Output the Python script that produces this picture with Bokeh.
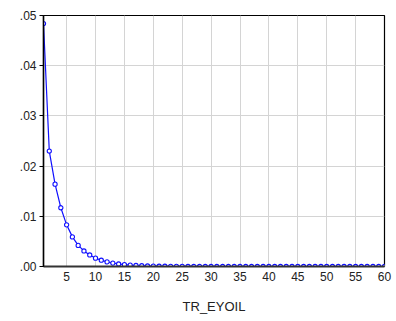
from bokeh.plotting import figure
from bokeh.models import FixedTicker, Range1d
from bokeh.embed import file_html
from bokeh.resources import INLINE

periods = list(range(1, 61))
values = [0.0484, 0.0230, 0.0164, 0.0117, 0.0083, 0.0059, 0.0042, 0.0031, 0.0023, 0.00166,
          0.00125, 0.00092, 0.00068, 0.00050, 0.00037, 0.00027, 0.00020, 0.00015, 0.00011, 0.00008,
          0.00006, 0.000045, 0.000033, 0.000025, 0.000018, 0.000013, 0.00001, 0.000007, 0.000005, 0.000004,
          0.000003, 0.000002, 0.0000015, 0.000001, 0.0000008, 0.0000006, 0.0000004, 0.0000003, 0.0000002, 0.0000002,
          0.0000001, 0.0000001, 0.0000001, 0.0, 0.0, 0.0, 0.0, 0.0, 0.0, 0.0,
          0.0, 0.0, 0.0, 0.0, 0.0, 0.0, 0.0, 0.0, 0.0, 0.0]
y_ticks = [0.0, 0.01, 0.02, 0.03, 0.04, 0.05]
y_labels = [".00", ".01", ".02", ".03", ".04", ".05"]
x_ticks = [5, 10, 15, 20, 25, 30, 35, 40, 45, 50, 55, 60]
x_title = "TR_EYOIL"

FONT = "Liberation Sans"

p = figure(width=396, height=321, output_backend="svg", toolbar_location=None,
           x_range=Range1d(1, 60), y_range=Range1d(0, 0.05),
           min_border_left=43, min_border_right=12, min_border_top=15, min_border_bottom=55)
p.background_fill_color = "white"
p.border_fill_color = "white"
p.outline_line_color = "black"
p.outline_line_width = 1.2

p.line(periods, values, line_color="#1010ff", line_width=1.2)
p.scatter(periods, values, marker="circle", size=4.2, fill_color="white",
          line_color="#1010ff", line_width=1.1)

p.xaxis.ticker = FixedTicker(ticks=x_ticks)
p.yaxis.ticker = FixedTicker(ticks=y_ticks)
p.yaxis.major_label_overrides = {t: l for t, l in zip(y_ticks, y_labels)}
p.xaxis.axis_label = x_title

for ax in (p.xaxis, p.yaxis):
    ax.axis_line_color = "black"
    ax.major_tick_line_color = "black"
    ax.minor_tick_line_color = None
    ax.major_tick_in = 0
    ax.major_tick_out = 4
    ax.major_label_text_font = FONT
    ax.major_label_text_font_size = "12px"
    ax.major_label_text_color = "#222222"
p.xaxis.major_tick_out = 0
p.xaxis.axis_line_width = 2
p.xaxis.axis_line_color = "#333333"
p.yaxis.axis_line_width = 1.5
p.xaxis.major_label_standoff = 5
p.yaxis.major_label_standoff = 3
p.xaxis.axis_label_text_font = FONT
p.xaxis.axis_label_text_font_size = "13px"
p.xaxis.axis_label_text_font_style = "normal"
p.xaxis.axis_label_text_color = "#222222"
p.xaxis.axis_label_standoff = 15

p.grid.grid_line_color = "#d4d4d4"
p.grid.grid_line_width = 1

open("out.html", "w").write(file_html(p, INLINE))
